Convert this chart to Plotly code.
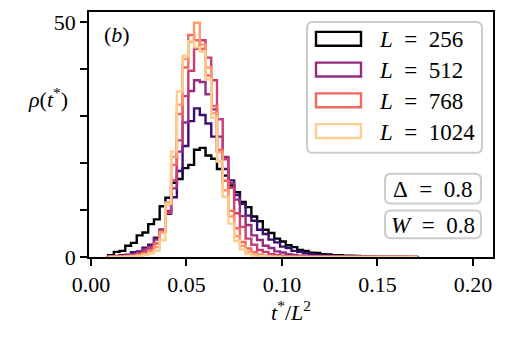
import numpy as np
import plotly.graph_objects as go

# histogram bins (t*/L^2)
BIN_START = 0.009
BIN_WIDTH = 0.003

sizes = [256, 384, 512, 640, 768, 896, 1024]
colors = ["#000004", "#3b0f70", "#962c80", "#c83e73", "#f4675e", "#fd9b6b", "#fecd90"]
legend_sizes = [256, 512, 768, 1024]

rho_256 = [0.4, 1.1, 1.3, 2.4, 3.0, 4.6, 5.2, 7.0, 8.0, 10.8,
           12.6, 15.8, 16.6, 18.9, 19.6, 22.8, 23.2, 21.6, 20.9, 18.7,
           17.3, 15.2, 13.8, 11.7, 10.6, 8.6, 7.6, 5.8, 5.1, 3.9,
           3.3, 2.5, 2.1, 1.5, 1.3, 0.9, 0.85, 0.6, 0.55, 0.4,
           0.36, 0.28, 0.26, 0.2, 0.16, 0.12, 0.1, 0.09, 0.06, 0.05,
           0.05, 0.04, 0.03, 0.03]
rho_384 = [0.1, 0.2, 0.4, 0.5, 1.0, 1.2, 2.0, 2.6, 4.1, 5.8,
           9.2, 12.7, 18.3, 23.6, 28.9, 31.6, 30.2, 28.4, 25.6, 22.4,
           18.7, 16.3, 13.2, 11.3, 8.8, 7.7, 5.8, 4.9, 3.7, 3.1,
           2.2, 1.9, 1.3, 1.1, 0.8, 0.6, 0.45, 0.35, 0.25, 0.2,
           0.15, 0.1, 0.08, 0.05, 0.04, 0.03, 0.02, 0.02, 0.01, 0.01,
           0, 0, 0, 0]
rho_512 = [0.05, 0.1, 0.2, 0.3, 0.6, 0.9, 1.6, 2.2, 3.7, 5.8,
           9.8, 14.6, 22.4, 28.6, 35.3, 37.6, 37.2, 34.6, 31.4, 25.6,
           21.3, 15.7, 12.2, 8.7, 6.8, 4.6, 3.6, 2.4, 1.9, 1.2,
           0.95, 0.6, 0.45, 0.3, 0.2, 0.15, 0.1, 0.08, 0.05, 0.04,
           0.03, 0.02, 0.02, 0.01, 0, 0, 0, 0, 0, 0,
           0, 0, 0, 0]
rho_640 = [0.05, 0.1, 0.15, 0.25, 0.4, 0.7, 1.1, 1.9, 2.9, 5.6,
           9.4, 16.3, 24.8, 34.2, 39.6, 44.3, 46.1, 42.4, 37.6, 29.3,
           20.8, 14.7, 9.3, 6.4, 3.9, 2.6, 1.5, 1.1, 0.6, 0.4,
           0.25, 0.15, 0.1, 0.05, 0.03, 0.02, 0.01, 0, 0, 0,
           0, 0, 0, 0, 0, 0, 0, 0, 0, 0,
           0, 0, 0, 0]
rho_768 = [0, 0.05, 0.1, 0.15, 0.3, 0.5, 0.8, 1.4, 2.9, 5.4,
           11.2, 19.6, 30.4, 40.3, 47.2, 46.1, 44.3, 38.6, 32.1, 22.8,
           16.2, 9.8, 6.1, 3.2, 1.8, 1.0, 0.5, 0.3, 0.2, 0.1,
           0.05, 0.03, 0.02, 0.01, 0, 0, 0, 0, 0, 0,
           0, 0, 0, 0, 0, 0, 0, 0, 0, 0,
           0, 0, 0, 0]
rho_896 = [0, 0, 0.05, 0.1, 0.2, 0.3, 0.6, 1.1, 2.1, 5.2,
           11.6, 21.3, 32.4, 42.1, 45.7, 49.8, 45.2, 40.3, 30.6, 22.3,
           14.2, 8.6, 4.4, 2.4, 1.1, 0.6, 0.3, 0.15, 0.1, 0.05,
           0.03, 0.01, 0, 0, 0, 0, 0, 0, 0, 0,
           0, 0, 0, 0, 0, 0, 0, 0, 0, 0,
           0, 0, 0, 0]
rho_1024 = [0, 0, 0, 0.05, 0.1, 0.2, 0.4, 0.8, 1.3, 3.6,
            11.3, 22.4, 35.2, 42.8, 45.9, 44.6, 43.7, 37.8, 29.6, 20.3,
            12.8, 7.1, 3.4, 1.6, 0.7, 0.3, 0.15, 0.1, 0.05, 0.02,
            0, 0, 0, 0, 0, 0, 0, 0, 0, 0,
            0, 0, 0, 0, 0, 0, 0, 0, 0, 0,
            0, 0, 0, 0]
densities = [rho_256, rho_384, rho_512, rho_640, rho_768, rho_896, rho_1024]

x_ticks = [0.0, 0.05, 0.10, 0.15, 0.20]

W, H = 505, 342
PL, PR, PT, PB = 89, 493, 10, 257
FONT = "Liberation Serif"
EQ = "&nbsp; = &nbsp;"


def px(x):
    return (x - PL) / (PR - PL)


def py(y):
    return (PB - y) / (PB - PT)


def rounded_box(x0, y0, x1, y1, r=6):
    pts = [("M", x0 + r, y0), ("L", x1 - r, y0), ("Q", x1, y0, x1, y0 + r),
           ("L", x1, y1 - r), ("Q", x1, y1, x1 - r, y1), ("L", x0 + r, y1),
           ("Q", x0, y1, x0, y1 - r), ("L", x0, y0 + r), ("Q", x0, y0, x0 + r, y0)]
    path = ""
    for p in pts:
        coords = p[1:]
        s = " ".join(f"{px(coords[i]):.4f},{py(coords[i + 1]):.4f}" for i in range(0, len(coords), 2))
        path += f"{p[0]} {s} "
    return dict(type="path", xref="paper", yref="paper", path=path + "Z",
                line=dict(color="#cccccc", width=2), fillcolor="rgba(255,255,255,0.8)")


def step_xy(vals):
    edges = BIN_START + BIN_WIDTH * np.arange(len(vals) + 1)
    xs = [edges[0]] + list(edges[:-1]) + [edges[-1], edges[-1]]
    ys = [0] + list(vals) + [vals[-1], 0]
    return xs, ys


fig = go.Figure()
for L, c, vals in zip(sizes, colors, densities):
    xs, ys = step_xy(vals)
    fig.add_trace(go.Scatter(x=xs, y=ys, mode="lines", line=dict(color=c, width=2.4, shape="hv"),
                             name=f"L = {L}", showlegend=False))

shapes = [rounded_box(307, 20, 482, 152), rounded_box(385, 173, 481, 203), rounded_box(385, 210, 481, 238)]
annotations = []
for i, L in enumerate(legend_sizes):
    yc = 37 + 31 * i
    c = colors[sizes.index(L)]
    shapes.append(dict(type="rect", xref="paper", yref="paper", x0=px(316), x1=px(361),
                       y0=py(yc - 7), y1=py(yc + 7), line=dict(color=c, width=2.4)))
    annotations.append(dict(x=px(377), y=py(yc + 1), xanchor="left", text=f"<i>L</i>{EQ}{L}",
                            font=dict(size=23)))

annotations += [
    dict(x=px(433), y=py(189), text=f"Δ{EQ}0.8", font=dict(size=23)),
    dict(x=px(433), y=py(225), text=f"<i>W</i>{EQ}0.8", font=dict(size=23)),
    dict(x=px(117), y=py(33), text="(<i>b</i>)"),
    dict(x=px(48), y=py(97), text="<i>ρ</i>(<i>t</i><sup>*</sup>)"),
]
for a in annotations:
    a.setdefault("xref", "paper")
    a.setdefault("yref", "paper")
    a.setdefault("showarrow", False)
    a.setdefault("xanchor", "center")
    a.setdefault("yanchor", "middle")

axis = dict(showline=True, linecolor="black", linewidth=1.6, mirror=True, ticks="outside",
            ticklen=7, tickwidth=1.6, tickcolor="black", showgrid=False, zeroline=False,
            tickfont=dict(family=FONT, size=22, color="black"))
fig.update_layout(
    width=W, height=H,
    margin=dict(l=PL, r=W - PR, t=PT, b=H - PB),
    plot_bgcolor="white", paper_bgcolor="white",
    font=dict(family=FONT, size=22, color="black"),
    xaxis=dict(axis, range=[-0.001, 0.2105], tickvals=x_ticks, tickformat=".2f",
               title=dict(text="<i>t</i><sup>*</sup>/<i>L</i><sup>2</sup>", standoff=8,
                          font=dict(family=FONT, size=22))),
    yaxis=dict(axis, range=[0, 52.1], tick0=0, dtick=50,
               minor=dict(dtick=10, ticks="outside", ticklen=7, tickwidth=1.6,
                          tickcolor="black", showgrid=False)),
    shapes=shapes, annotations=annotations,
)
fig.write_html("out.html", config={"displayModeBar": False},
               post_script="document.body.style.margin='0';")
